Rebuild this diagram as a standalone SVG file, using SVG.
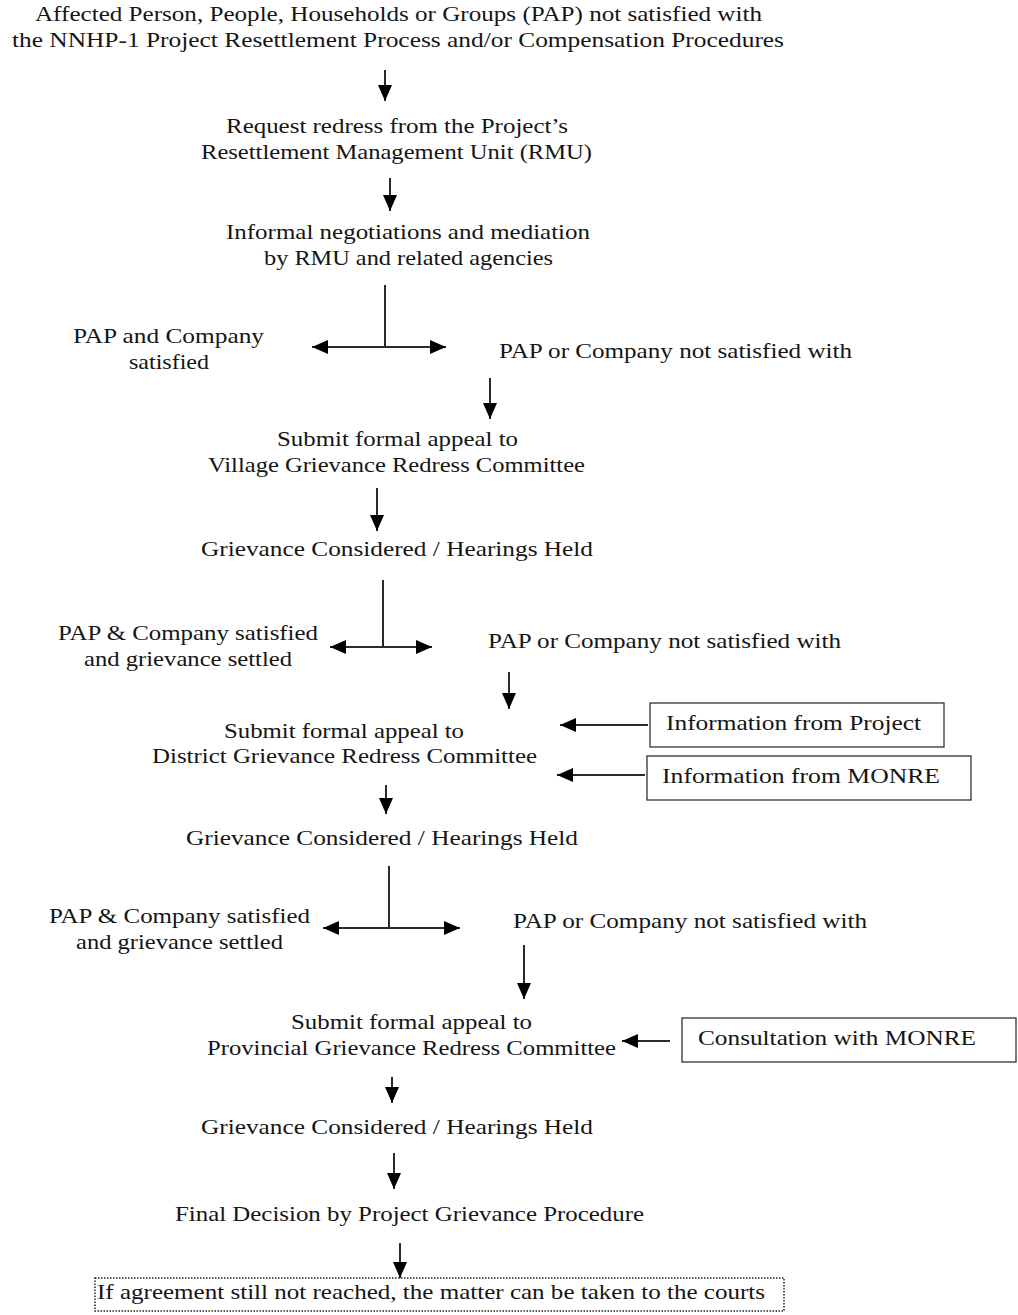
<svg xmlns="http://www.w3.org/2000/svg" width="1018" height="1315" viewBox="0 0 1018 1315">
<style>
text{font-family:"Liberation Serif","DejaVu Serif",serif;font-size:21px;fill:#151515}
.c{stroke:#2a2a2a;stroke-width:2;fill:none}
.a{stroke:#2a2a2a;stroke-width:2;fill:none;marker-end:url(#ah)}
.box{fill:#fff;stroke:#333;stroke-width:1.3}
</style>
<defs>
<marker id="ah" markerUnits="userSpaceOnUse" markerWidth="16" markerHeight="14" viewBox="0 0 16 14" refX="16" refY="7" orient="auto-start-reverse">
<path d="M0,0 L16,7 L0,14 Z" fill="#000"/>
</marker>
</defs>
<rect width="1018" height="1315" fill="#fff"/>

<g id="connectors">
<line class="a" x1="385" y1="70" x2="385" y2="101"/>
<line class="a" x1="390" y1="178" x2="390" y2="211"/>
<line class="c" x1="385" y1="285" x2="385" y2="347"/>
<line class="a" x1="385" y1="347" x2="312" y2="347"/>
<line class="a" x1="385" y1="347" x2="446" y2="347"/>
<line class="a" x1="490" y1="378" x2="490" y2="419"/>
<line class="a" x1="377" y1="488" x2="377" y2="531"/>
<line class="c" x1="383" y1="580" x2="383" y2="647"/>
<line class="a" x1="383" y1="647" x2="330" y2="647"/>
<line class="a" x1="383" y1="647" x2="432" y2="647"/>
<line class="a" x1="509" y1="672" x2="509" y2="709"/>
<line class="a" x1="648" y1="725" x2="560" y2="725"/>
<line class="a" x1="645" y1="775" x2="557" y2="775"/>
<line class="a" x1="386" y1="785" x2="386" y2="814"/>
<line class="c" x1="389" y1="866" x2="389" y2="928"/>
<line class="a" x1="389" y1="928" x2="323" y2="928"/>
<line class="a" x1="389" y1="928" x2="460" y2="928"/>
<line class="a" x1="524" y1="945" x2="524" y2="999"/>
<line class="a" x1="670" y1="1041" x2="622" y2="1041"/>
<line class="a" x1="392" y1="1077" x2="392" y2="1103"/>
<line class="a" x1="394" y1="1153" x2="394" y2="1189"/>
<line class="a" x1="400" y1="1243" x2="400" y2="1278"/>
</g>

<g id="n1">
<text x="35" y="21" textLength="727" lengthAdjust="spacingAndGlyphs">Affected Person, People, Households or Groups (PAP) not satisfied with</text>
<text x="12" y="47" textLength="772" lengthAdjust="spacingAndGlyphs">the NNHP-1 Project Resettlement Process and/or Compensation Procedures</text>
</g>
<g id="n2">
<text x="226" y="133" textLength="342" lengthAdjust="spacingAndGlyphs">Request redress from the Project’s</text>
<text x="201" y="159" textLength="391" lengthAdjust="spacingAndGlyphs">Resettlement Management Unit (RMU)</text>
</g>
<g id="n3">
<text x="226" y="239" textLength="364" lengthAdjust="spacingAndGlyphs">Informal negotiations and mediation</text>
<text x="264" y="265" textLength="289" lengthAdjust="spacingAndGlyphs">by RMU and related agencies</text>
</g>
<g id="n4">
<text x="73" y="343" textLength="191" lengthAdjust="spacingAndGlyphs">PAP and Company</text>
<text x="129" y="369" textLength="80" lengthAdjust="spacingAndGlyphs">satisfied</text>
</g>
<g id="n5">
<text x="499" y="358" textLength="353" lengthAdjust="spacingAndGlyphs">PAP or Company not satisfied with</text>
</g>
<g id="n6">
<text x="277" y="446" textLength="241" lengthAdjust="spacingAndGlyphs">Submit formal appeal to</text>
<text x="208" y="472" textLength="377" lengthAdjust="spacingAndGlyphs">Village Grievance Redress Committee</text>
</g>
<g id="n7">
<text x="201" y="556" textLength="392" lengthAdjust="spacingAndGlyphs">Grievance Considered / Hearings Held</text>
</g>
<g id="n8">
<text x="58" y="640" textLength="260" lengthAdjust="spacingAndGlyphs">PAP &amp; Company satisfied</text>
<text x="84" y="666" textLength="208" lengthAdjust="spacingAndGlyphs">and grievance settled</text>
</g>
<g id="n9">
<text x="488" y="648" textLength="353" lengthAdjust="spacingAndGlyphs">PAP or Company not satisfied with</text>
</g>
<g id="n10">
<text x="224" y="738" textLength="240" lengthAdjust="spacingAndGlyphs">Submit formal appeal to</text>
<text x="152" y="763" textLength="385" lengthAdjust="spacingAndGlyphs">District Grievance Redress Committee</text>
</g>
<g id="n11">
<rect class="box" x="650" y="703" width="294" height="44"/>
<text x="666" y="730" textLength="255" lengthAdjust="spacingAndGlyphs">Information from Project</text>
</g>
<g id="n12">
<rect class="box" x="647" y="756" width="324" height="44"/>
<text x="662" y="783" textLength="278" lengthAdjust="spacingAndGlyphs">Information from MONRE</text>
</g>
<g id="n13">
<text x="186" y="845" textLength="392" lengthAdjust="spacingAndGlyphs">Grievance Considered / Hearings Held</text>
</g>
<g id="n14">
<text x="49" y="923" textLength="261" lengthAdjust="spacingAndGlyphs">PAP &amp; Company satisfied</text>
<text x="76" y="949" textLength="207" lengthAdjust="spacingAndGlyphs">and grievance settled</text>
</g>
<g id="n15">
<text x="513" y="928" textLength="354" lengthAdjust="spacingAndGlyphs">PAP or Company not satisfied with</text>
</g>
<g id="n16">
<text x="291" y="1029" textLength="241" lengthAdjust="spacingAndGlyphs">Submit formal appeal to</text>
<text x="207" y="1055" textLength="409" lengthAdjust="spacingAndGlyphs">Provincial Grievance Redress Committee</text>
</g>
<g id="n17">
<rect class="box" x="682" y="1018" width="334" height="44"/>
<text x="698" y="1045" textLength="278" lengthAdjust="spacingAndGlyphs">Consultation with MONRE</text>
</g>
<g id="n18">
<text x="201" y="1134" textLength="392" lengthAdjust="spacingAndGlyphs">Grievance Considered / Hearings Held</text>
</g>
<g id="n19">
<text x="175" y="1221" textLength="469" lengthAdjust="spacingAndGlyphs">Final Decision by Project Grievance Procedure</text>
</g>
<g id="n20">
<rect x="95" y="1278" width="689" height="33" fill="none" stroke="#222" stroke-width="1.5" stroke-dasharray="1.5,1.5"/>
<text x="97" y="1299" textLength="668" lengthAdjust="spacingAndGlyphs">If agreement still not reached, the matter can be taken to the courts</text>
</g>
</svg>
